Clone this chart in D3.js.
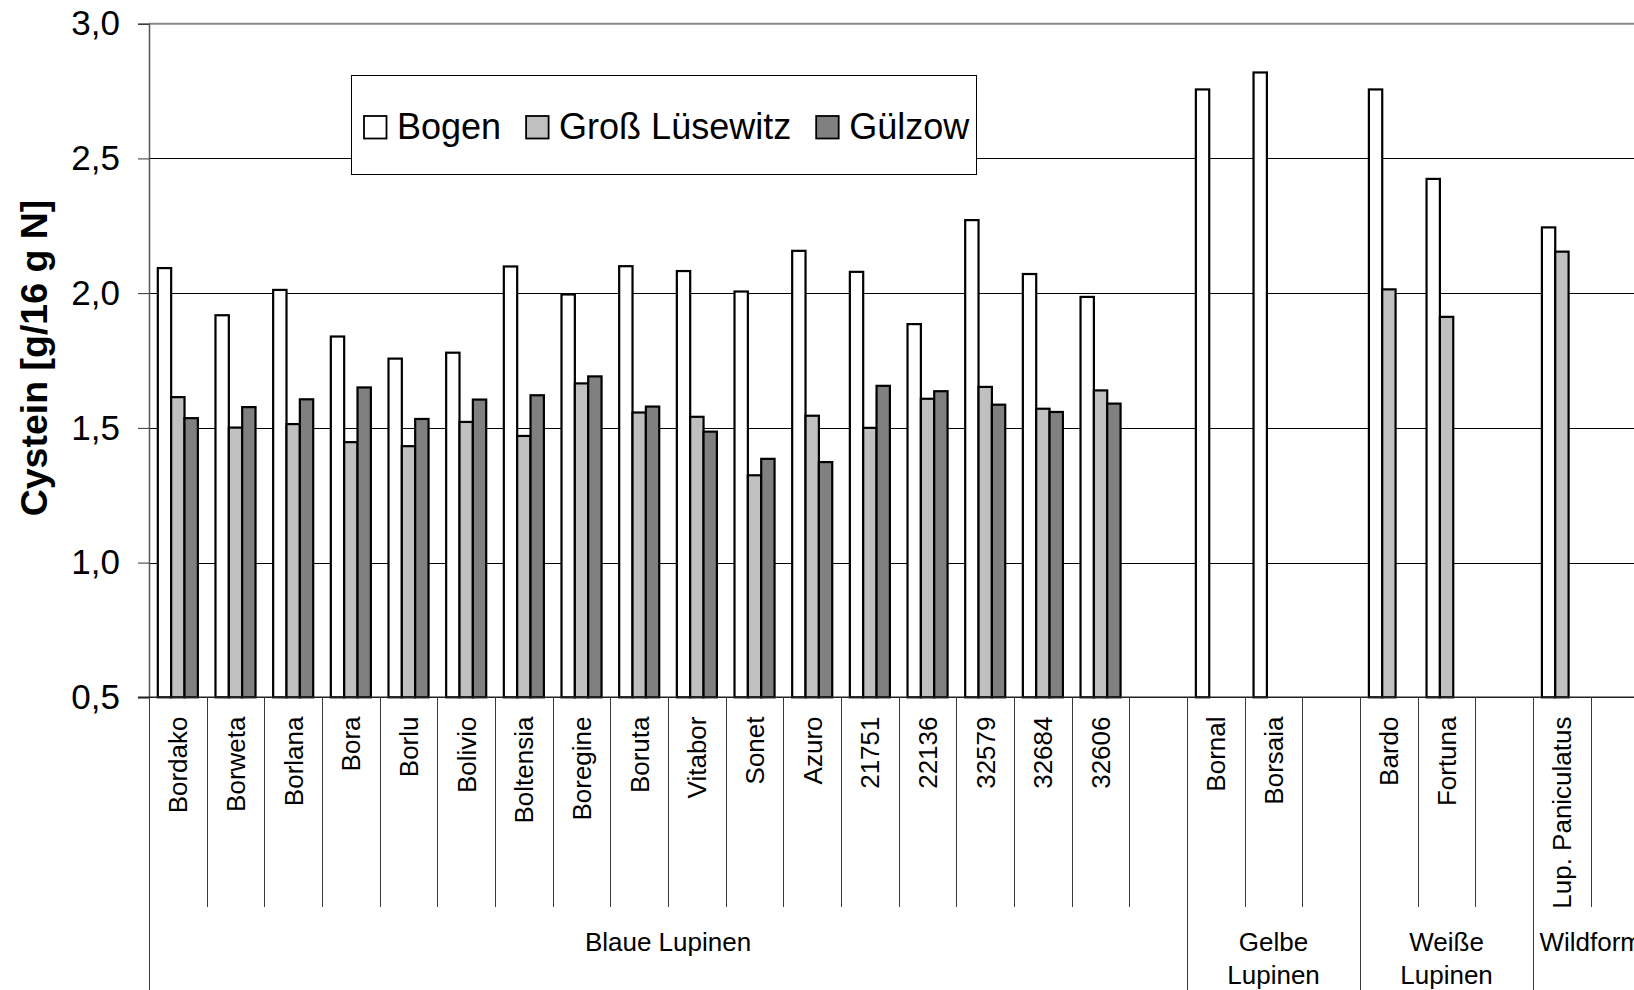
<!DOCTYPE html>
<html>
<head>
<meta charset="utf-8">
<script src="https://cdn.jsdelivr.net/npm/d3@7"></script>
<style>
  html, body { margin: 0; padding: 0; background: #fff; overflow: hidden; }
  svg { display: block; font-family: "Liberation Sans", Arial, Helvetica, sans-serif; }
</style>
</head>
<body>
<svg id="chart" width="1634" height="990"></svg>
<script>
// ---------------- data ----------------
const slotLabels = ["Bordako","Borweta","Borlana","Bora","Borlu","Bolivio","Boltensia","Boregine","Boruta","Vitabor","Sonet","Azuro","21751","22136","32579","32684","32606","",
                    "Bornal","Borsaia","",
                    "Bardo","Fortuna","",
                    "Lup. Paniculatus",""];
const groupNames = [["Blaue Lupinen"], ["Gelbe","Lupinen"], ["Weiße","Lupinen"], ["Wildform"]];
const groupSizes = [18, 3, 3, 2];
const seriesNames = ["Bogen", "Groß Lüsewitz", "Gülzow"];
const bogen   = [2.093,1.918,2.012,1.839,1.757,1.779,2.099,1.995,2.100,2.082,2.006,2.157,2.079,1.885,2.271,2.071,1.986,null,
                 2.756,2.819,null, 2.756,2.424,null, 2.244,null];
const gross   = [1.614,1.501,1.514,1.447,1.432,1.522,1.470,1.665,1.557,1.541,1.324,1.545,1.500,1.608,1.652,1.571,1.639,null,
                 null,null,null, 2.014,1.912,null, 2.154,null];
const guelzow = [1.536,1.577,1.606,1.650,1.533,1.605,1.621,1.691,1.579,1.486,1.385,1.373,1.656,1.636,1.586,1.559,1.590,null,
                 null,null,null, null,null,null, null,null];
const yTicks = [0.5, 1.0, 1.5, 2.0, 2.5, 3.0];
const yTitle = "Cystein [g/16 g N]";

// ---------------- layout ----------------
const colors = ["#ffffff", "#c0c0c0", "#808080"];
const X0 = 149, SLOT = 57.67;
const Y_TOP = 23.7, Y_BOT = 697.3;
const svg = d3.select("#chart");
const FONT = '"Liberation Sans", Arial, Helvetica, sans-serif';

const x = d3.scaleBand().domain(d3.range(slotLabels.length)).range([X0, X0 + SLOT * slotLabels.length]).padding(0);
const xs = d3.scaleBand().domain(d3.range(seriesNames.length)).range([0, x.bandwidth()]).paddingInner(0).paddingOuter(0.66);
const y = d3.scaleLinear().domain([0.5, 3.0]).range([Y_BOT, Y_TOP]);
const locale = d3.formatLocale({decimal: ",", thousands: ".", grouping: [3], currency: ["", "€"]});
const fmt = locale.format(".1f");

// gridlines
svg.append("g").selectAll("line").data(yTicks.filter(v => v > 0.5 && v < 3.0)).join("line")
  .attr("x1", X0).attr("x2", 1634).attr("y1", d => Math.round(y(d)) + 0.5).attr("y2", d => Math.round(y(d)) + 0.5)
  .attr("stroke", "#000").attr("stroke-width", 1);
// plot-area top border
svg.append("line").attr("x1", X0).attr("x2", 1634).attr("y1", y(3.0)).attr("y2", y(3.0))
  .attr("stroke", "#8a8a8a").attr("stroke-width", 2);

// bars
const series = [bogen, gross, guelzow];
const bars = [];
series.forEach((vals, si) => vals.forEach((v, i) => { if (v != null) bars.push({si, i, v}); }));
svg.append("g").selectAll("rect").data(bars).join("rect")
  .attr("x", d => x(d.i) + xs(d.si))
  .attr("width", xs.bandwidth())
  .attr("y", d => y(d.v))
  .attr("height", d => y(0.5) - y(d.v))
  .attr("fill", d => colors[d.si])
  .attr("stroke", "#000").attr("stroke-width", 2.2);

// y axis
const yAxis = d3.axisLeft(y).tickValues(yTicks).tickFormat(fmt).tickSize(11).tickPadding(18);
const gy = svg.append("g").attr("transform", `translate(${X0},0)`).call(yAxis);
gy.select(".domain").attr("stroke", "#555").attr("stroke-width", 1.5);
gy.selectAll(".tick line").attr("stroke", "#333");
gy.selectAll(".tick text").attr("font-size", 35).attr("font-family", FONT).attr("fill", "#000");

// x axis baseline
svg.append("line").attr("x1", X0 - 11).attr("x2", 1634).attr("y1", Y_BOT).attr("y2", Y_BOT)
  .attr("stroke", "#222").attr("stroke-width", 1.5);

// category separators
const groupStarts = [];
let acc = 0;
groupSizes.forEach(s => { groupStarts.push(acc); acc += s; });
const bounds = d3.range(slotLabels.length + 1);
svg.append("g").selectAll("line").data(bounds).join("line")
  .attr("x1", d => Math.round(X0 + d * x.step()) + 0.5)
  .attr("x2", d => Math.round(X0 + d * x.step()) + 0.5)
  .attr("y1", Y_BOT)
  .attr("y2", d => (groupStarts.includes(d) || d === slotLabels.length) ? 990 : 907)
  .attr("stroke", "#3a3a3a").attr("stroke-width", 1);

// cultivar labels (rotated)
svg.append("g").selectAll("text").data(slotLabels.map((t, i) => ({t, i})).filter(d => d.t)).join("text")
  .attr("transform", d => `translate(${x(d.i) + x.bandwidth() / 2},716.5) rotate(-90)`)
  .attr("text-anchor", "end").attr("dy", "0.36em")
  .attr("font-size", 26).attr("font-family", FONT).attr("fill", "#000")
  .text(d => d.t);

// group labels
groupNames.forEach((lines, gi) => {
  const start = groupStarts[gi], end = start + groupSizes[gi];
  const cx = X0 + (start + end) / 2 * x.step();
  const t = svg.append("text").attr("x", cx).attr("y", 951).attr("text-anchor", "middle")
    .attr("font-size", 26).attr("font-family", FONT).attr("fill", "#000");
  lines.forEach((ln, li) => t.append("tspan").attr("x", cx).attr("y", 951 + li * 32.5).text(ln));
});

// y title
svg.append("text").attr("transform", "translate(46.5,358) rotate(-90)")
  .attr("text-anchor", "middle").attr("font-size", 37.5).attr("font-weight", "bold")
  .attr("font-family", FONT).attr("fill", "#000").text(yTitle);

// legend
const lg = svg.append("g");
lg.append("rect").attr("x", 351.5).attr("y", 75.5).attr("width", 625).attr("height", 99)
  .attr("fill", "#fff").attr("stroke", "#000").attr("stroke-width", 1);
let lx = 364;
seriesNames.forEach((name, i) => {
  lg.append("rect").attr("x", lx).attr("y", 116).attr("width", 22.5).attr("height", 22.5)
    .attr("fill", colors[i]).attr("stroke", "#000").attr("stroke-width", 1.8);
  const t = lg.append("text").attr("x", lx + 33).attr("y", 139)
    .attr("font-size", 36).attr("font-family", FONT).attr("fill", "#000").text(name);
  lx = lx + 33 + t.node().getComputedTextLength() + 25;
});
</script>
</body>
</html>
